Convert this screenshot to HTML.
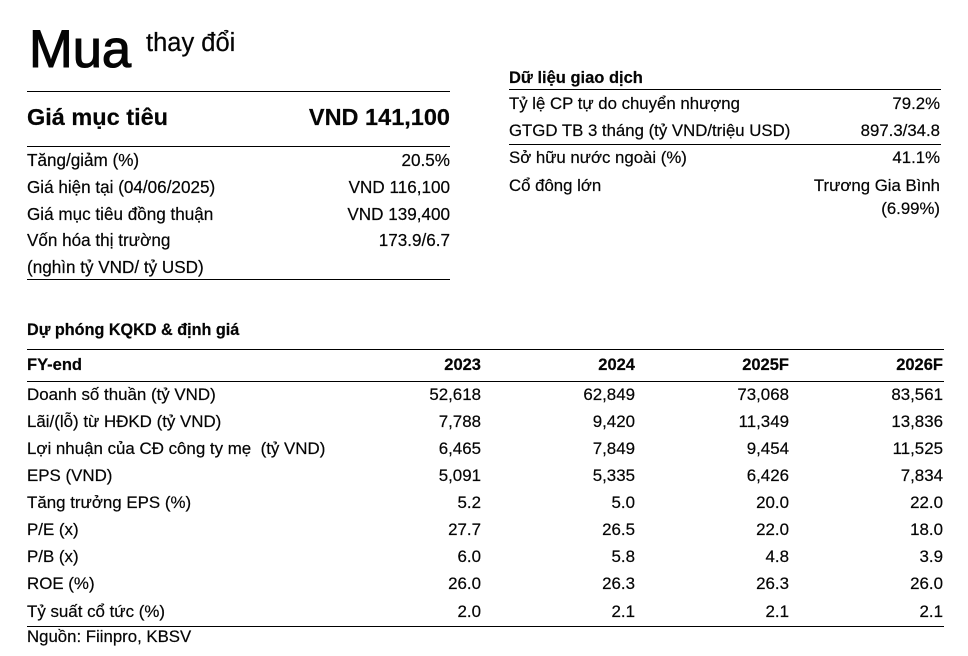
<!DOCTYPE html>
<html>
<head>
<meta charset="utf-8">
<style>
  html,body{margin:0;padding:0;background:#fff;}
  body{width:968px;height:656px;position:relative;overflow:hidden;
       font-family:"Liberation Sans","Noto Sans CJK SC",sans-serif;color:#050505;
       -webkit-text-stroke:0.2px #050505;}
  .a{position:absolute;white-space:nowrap;}
  .hl{position:absolute;height:1px;background:#000;}
  .row{position:absolute;display:flex;justify-content:space-between;white-space:nowrap;height:27px;line-height:27px;}
  .L{left:27px;width:423px;font-size:17.1px;}
  .R{left:509px;width:431px;font-size:16.8px;}
  .tr{position:absolute;left:0;width:968px;height:27.125px;line-height:27.125px;font-size:16.9px;white-space:nowrap;}
  .tr .lb{position:absolute;left:27px;}
  .tr .c1{position:absolute;right:487px;}
  .tr .c2{position:absolute;right:333px;}
  .tr .c3{position:absolute;right:179px;}
  .tr .c4{position:absolute;right:25px;}
</style>
</head>
<body>
  <!-- Header -->
  <div class="a" style="left:29px;top:24px;font-size:52.5px;line-height:52.5px;-webkit-text-stroke:1.1px #050505;">Mua</div>
  <div class="a" style="left:146px;top:31px;font-size:25.5px;line-height:25.5px;">thay đổi</div>

  <!-- Left block -->
  <div class="hl" style="left:27px;width:423px;top:91px;"></div>
  <div class="row" style="left:27px;width:423px;top:104px;font-size:23.5px;font-weight:bold;"><span>Giá mục tiêu</span><span>VND 141,100</span></div>
  <div class="hl" style="left:27px;width:423px;top:146px;"></div>
  <div class="row L" style="top:146.5px;"><span>Tăng/giảm (%)</span><span>20.5%</span></div>
  <div class="row L" style="top:173.5px;"><span>Giá hiện tại (04/06/2025)</span><span>VND 116,100</span></div>
  <div class="row L" style="top:200.5px;"><span>Giá mục tiêu đồng thuận</span><span>VND 139,400</span></div>
  <div class="row L" style="top:227px;"><span>Vốn hóa thị trường</span><span>173.9/6.7</span></div>
  <div class="row L" style="top:254px;"><span>(nghìn tỷ VND/ tỷ USD)</span><span></span></div>
  <div class="hl" style="left:27px;width:423px;top:279px;"></div>

  <!-- Right block -->
  <div class="row" style="left:509px;width:431px;top:65px;font-size:16.5px;font-weight:bold;"><span>Dữ liệu giao dịch</span><span></span></div>
  <div class="hl" style="left:509px;width:432px;top:89px;"></div>
  <div class="row R" style="top:90.2px;"><span>Tỷ lệ CP tự do chuyển nhượng</span><span>79.2%</span></div>
  <div class="row R" style="top:117.2px;"><span>GTGD TB 3 tháng (tỷ VND/triệu USD)</span><span>897.3/34.8</span></div>
  <div class="hl" style="left:509px;width:432px;top:144px;"></div>
  <div class="row R" style="top:144px;"><span>Sở hữu nước ngoài (%)</span><span>41.1%</span></div>
  <div class="row R" style="top:171.5px;"><span>Cổ đông lớn</span><span>Trương Gia Bình</span></div>
  <div class="row R" style="top:194.8px;"><span></span><span>(6.99%)</span></div>

  <!-- Table -->
  <div class="a" style="left:27px;top:316.5px;height:27px;line-height:27px;font-size:16.2px;font-weight:bold;">Dự phóng KQKD &amp; định giá</div>
  <div class="hl" style="left:27px;width:917px;top:349px;"></div>
  <div class="tr" style="top:352px;font-weight:bold;font-size:16.5px;"><span class="lb">FY-end</span><span class="c1">2023</span><span class="c2">2024</span><span class="c3">2025F</span><span class="c4">2026F</span></div>
  <div class="hl" style="left:27px;width:917px;top:380.5px;"></div>

  <div class="tr" style="top:380.5px;"><span class="lb">Doanh số thuần (tỷ VND)</span><span class="c1">52,618</span><span class="c2">62,849</span><span class="c3">73,068</span><span class="c4">83,561</span></div>
  <div class="tr" style="top:407.6px;"><span class="lb">Lãi/(lỗ) từ HĐKD (tỷ VND)</span><span class="c1">7,788</span><span class="c2">9,420</span><span class="c3">11,349</span><span class="c4">13,836</span></div>
  <div class="tr" style="top:434.75px;"><span class="lb">Lợi nhuận của CĐ công ty mẹ&nbsp; (tỷ VND)</span><span class="c1">6,465</span><span class="c2">7,849</span><span class="c3">9,454</span><span class="c4">11,525</span></div>
  <div class="tr" style="top:461.9px;"><span class="lb">EPS (VND)</span><span class="c1">5,091</span><span class="c2">5,335</span><span class="c3">6,426</span><span class="c4">7,834</span></div>
  <div class="tr" style="top:489px;"><span class="lb">Tăng trưởng EPS (%)</span><span class="c1">5.2</span><span class="c2">5.0</span><span class="c3">20.0</span><span class="c4">22.0</span></div>
  <div class="tr" style="top:516.1px;"><span class="lb">P/E (x)</span><span class="c1">27.7</span><span class="c2">26.5</span><span class="c3">22.0</span><span class="c4">18.0</span></div>
  <div class="tr" style="top:543.25px;"><span class="lb">P/B (x)</span><span class="c1">6.0</span><span class="c2">5.8</span><span class="c3">4.8</span><span class="c4">3.9</span></div>
  <div class="tr" style="top:570.4px;"><span class="lb">ROE (%)</span><span class="c1">26.0</span><span class="c2">26.3</span><span class="c3">26.3</span><span class="c4">26.0</span></div>
  <div class="tr" style="top:597.5px;"><span class="lb">Tỷ suất cổ tức (%)</span><span class="c1">2.0</span><span class="c2">2.1</span><span class="c3">2.1</span><span class="c4">2.1</span></div>
  <div class="hl" style="left:27px;width:917px;top:626px;"></div>
  <div class="a" style="left:27px;top:623px;height:27px;line-height:27px;font-size:16.8px;">Nguồn: Fiinpro, KBSV</div>
</body>
</html>
